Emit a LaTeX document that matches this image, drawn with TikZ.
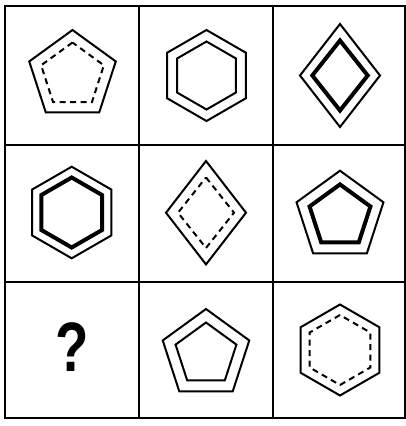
\documentclass[tikz,border=0pt]{standalone}
\usepackage{fontspec}
\setmainfont{Liberation Sans}
\tikzset{
  thin/.style={line width=2pt, line join=miter},
  thick/.style={line width=4pt, line join=miter},
  dashline/.style={line width=2pt, dash pattern=on 6pt off 4.5pt},
  gridline/.style={line width=2.2pt}
}
\newcommand{\pent}[3]{\draw[#3,shift={(#1)}] (90:#2pt) -- (162:#2pt) -- (234:#2pt) -- (306:#2pt) -- (18:#2pt) -- cycle;}
\newcommand{\hexa}[3]{\draw[#3,shift={(#1)}] (90:#2pt) -- (150:#2pt) -- (210:#2pt) -- (270:#2pt) -- (330:#2pt) -- (30:#2pt) -- cycle;}
\newcommand{\dia}[4]{\draw[#4,shift={(#1)}] (0pt,#3pt) -- (#2pt,0pt) -- (0pt,-#3pt) -- (-#2pt,0pt) -- cycle;}
\begin{document}
\begin{tikzpicture}[x=1pt,y=-1pt]
\useasboundingbox (0,0) rectangle (406,426);
% grid
\draw[gridline] (5,6) rectangle (405,418);
\draw[gridline] (139,6) -- (139,418);
\draw[gridline] (273,6) -- (273,418);
\draw[gridline] (5,145) -- (405,145);
\draw[gridline] (5,282) -- (405,282);
% centres
\coordinate (c11) at (72.5,75.5);
\coordinate (c12) at (206.5,75.5);
\coordinate (c13) at (340,75.5);
\coordinate (c21) at (71.7,212.5);
\coordinate (c22) at (206,212.7);
\coordinate (c23) at (340,216.4);
\coordinate (c31) at (71.7,346.7);
\coordinate (c32) at (206,354.5);
\coordinate (c33) at (340,350);
% row 1
\pent{c11}{45.5}{thin}
\pent{c11}{33}{dashline}
\hexa{c12}{45.5}{thin}
\hexa{c12}{34}{thin}
\dia{c13}{40}{51.5}{thin}
\dia{c13}{27.7}{35}{thick}
% row 2
\hexa{c21}{45.8}{thin}
\hexa{c21}{35}{thick}
\dia{c22}{40}{51.7}{thin}
\dia{c22}{28}{35.3}{dashline}
\pent{c23}{45.7}{thin}
\pent{c23}{32}{thick}
% row 3
\node[inner sep=0pt, xscale=0.78] (q) at (c31) {\fontsize{70}{70}\selectfont\bfseries ?};
\pent{c32}{45.5}{thin}
\pent{c32}{32}{thin}
\hexa{c33}{45.5}{thin}
\hexa{c33}{35}{dashline}
\end{tikzpicture}
\end{document}
